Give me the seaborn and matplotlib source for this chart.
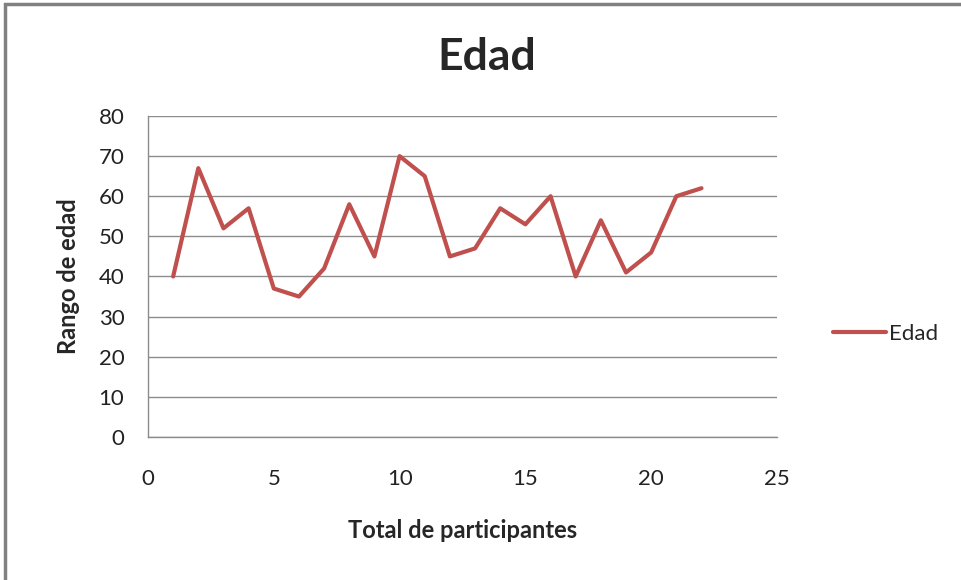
import matplotlib.pyplot as plt
import matplotlib.patches as mpatches
import seaborn as sns
import pandas as pd

participantes = list(range(1, 23))
edad = [40, 67, 52, 57, 37, 35, 42, 58, 45, 70, 65,
        45, 47, 57, 53, 60, 40, 54, 41, 46, 60, 62]
x_ticks = [0, 5, 10, 15, 20, 25]
y_ticks = [0, 10, 20, 30, 40, 50, 60, 70, 80]

df = pd.DataFrame({"Total de participantes": participantes, "Edad": edad})

sns.set_style("white")
plt.rcParams["font.family"] = ["Lato", "DejaVu Sans"]

fig = plt.figure(figsize=(9.61, 5.8), dpi=100)
ax = fig.add_axes([0.154, 0.2466, 0.6545, 0.5534])

sns.lineplot(data=df, x="Total de participantes", y="Edad", ax=ax,
             color="#C0504D", linewidth=3, label="Edad", legend=False)

ax.set_xlim(0, 25)
ax.set_ylim(0, 80)
ax.set_xticks(x_ticks)
ax.set_yticks(y_ticks)
ax.yaxis.grid(True, color="#8c8c8c", linewidth=1)
ax.set_axisbelow(True)
for s in ["top", "right"]:
    ax.spines[s].set_visible(False)
for s in ["left", "bottom"]:
    ax.spines[s].set_color("#8c8c8c")
    ax.spines[s].set_linewidth(1)
ax.tick_params(axis="both", length=0, labelsize=16, colors="#222222")
ax.tick_params(axis="x", pad=23)
ax.tick_params(axis="y", pad=17)

ax.set_xlabel("Total de participantes", fontsize=17, fontweight="bold", labelpad=22)
ax.set_ylabel("Rango de edad", fontsize=17, fontweight="bold", labelpad=13)
fig.text(0.507, 0.902, "Edad", fontsize=32, fontweight="bold", ha="center", va="center")

handles, labels = ax.get_legend_handles_labels()
fig.legend(handles, labels, loc="center left", bbox_to_anchor=(0.846, 0.425),
           frameon=False, fontsize=16, handlelength=2.4, handletextpad=0.1)

# outer chart border (only top/left visible in the crop)
fig.patches.append(mpatches.Rectangle((0.005, -0.1), 1.2, 1.093, transform=fig.transFigure,
                                      fill=False, edgecolor="#808080", linewidth=2.5))

plt.savefig("out.png", dpi=100)
